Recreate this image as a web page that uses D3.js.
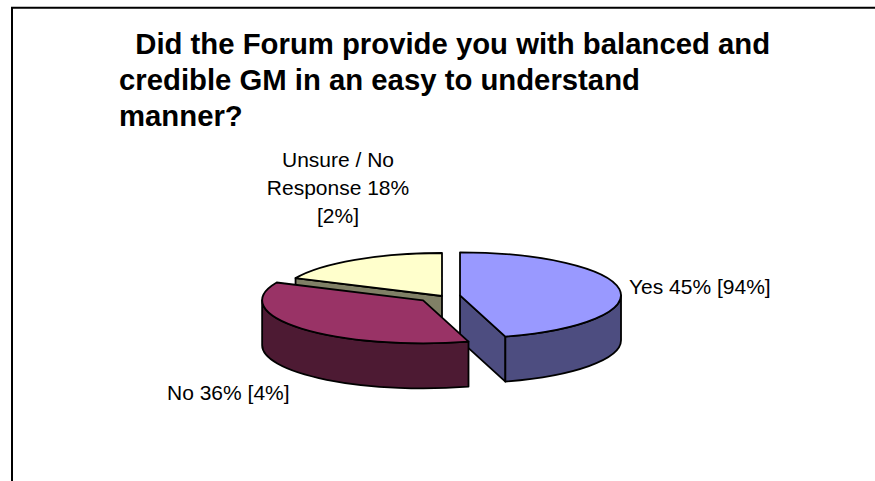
<!DOCTYPE html>
<html>
<head>
<meta charset="utf-8">
<script src="https://cdn.jsdelivr.net/npm/d3@7"></script>
<style>
  html, body { margin: 0; padding: 0; background: #fff; }
  svg { display: block; }
  text { font-family: "Liberation Sans", Arial, sans-serif; }
</style>
</head>
<body>
<svg id="chart" width="875" height="481"></svg>
<script>
// ---- data ----
const titleLines = ["  Did the Forum provide you with balanced and", "credible GM in an easy to understand", "manner?"];
const categories = ["Yes", "No", "Unsure / No Response"];
const values = [45, 36, 18];
const bracketValues = [94, 4, 2];
const colors = ["#9999FF", "#993366", "#FFFFCC"];
const explode = [0.113, 0.155, 0];
const labelLines = [
  ["Yes 45% [94%]"],
  ["No 36% [4%]"],
  ["Unsure / No", "Response 18%", "[2%]"]
];

// ---- layout ----
const W = 875, H = 481;
const cx = 442, cy = 296, rx = 161, ry = 43, depth = 45;
const svg = d3.select("#chart");

// frame (top and left lines)
svg.append("path")
  .attr("d", `M12,${H} L12,7.7 L${W},7.7`)
  .attr("fill", "none").attr("stroke", "#000").attr("stroke-width", 2);

// title
const title = svg.append("text")
  .attr("font-size", 29.3).attr("font-weight", "bold").attr("fill", "#000")
  .style("white-space", "pre");
titleLines.forEach((t, i) => {
  title.append("tspan").attr("x", 119).attr("y", 54 + i * 36).text(t);
});

// pie
const pie = d3.pie().sort(null).value(d => d);
const arcs = pie(values);

function pt(a, c, dz) {
  return [c[0] + rx * Math.sin(a), c[1] - ry * Math.cos(a) + (dz || 0)];
}
const darker = col => { const c = d3.rgb(col); return d3.rgb(c.r / 2, c.g / 2, c.b / 2).formatHex(); };

const slices = arcs.map((a, i) => {
  const mid = (a.startAngle + a.endAngle) / 2;
  const c = [cx + explode[i] * rx * Math.sin(mid), cy - explode[i] * ry * Math.cos(mid)];
  return { a, i, mid, c };
});
// draw back to front
const order = slices.slice().sort((p, q) => (-Math.cos(p.mid)) - (-Math.cos(q.mid)));

const g = svg.append("g").attr("stroke", "#000").attr("stroke-width", 1.8).attr("stroke-linejoin", "round");

order.forEach(s => {
  const { a, i, c } = s;
  const a0 = a.startAngle, a1 = a.endAngle;
  const top = colors[i], side = darker(colors[i]);
  // radial walls
  const wall = ang => {
    const p = pt(ang, c), pd = pt(ang, c, depth);
    return `M${c[0]},${c[1]} L${p[0]},${p[1]} L${pd[0]},${pd[1]} L${c[0]},${c[1] + depth} Z`;
  };
  if (Math.sin(a0) < -1e-6) g.append("path").attr("d", wall(a0)).attr("fill", side);
  if (Math.sin(a1) > 1e-6) g.append("path").attr("d", wall(a1)).attr("fill", side);
  // outer wall (front part only)
  const s0 = Math.max(a0, Math.PI / 2), s1 = Math.min(a1, 3 * Math.PI / 2);
  if (s1 > s0) {
    const p0 = pt(s0, c), p1 = pt(s1, c), p1d = pt(s1, c, depth), p0d = pt(s0, c, depth);
    g.append("path")
      .attr("d", `M${p0[0]},${p0[1]} A${rx},${ry} 0 0 1 ${p1[0]},${p1[1]} L${p1d[0]},${p1d[1]} A${rx},${ry} 0 0 0 ${p0d[0]},${p0d[1]} Z`)
      .attr("fill", side);
  }
  // top face
  const q0 = pt(a0, c), q1 = pt(a1, c);
  const large = (a1 - a0) > Math.PI ? 1 : 0;
  g.append("path")
    .attr("d", `M${c[0]},${c[1]} L${q0[0]},${q0[1]} A${rx},${ry} 0 ${large} 1 ${q1[0]},${q1[1]} Z`)
    .attr("fill", top);
});

// labels
const labelPos = [
  { x: 629, y: 294, anchor: "start" },
  { x: 167, y: 400, anchor: "start" },
  { x: 338, y: 167, anchor: "middle" }
];
labelLines.forEach((lines, i) => {
  const t = svg.append("text")
    .attr("font-size", 21).attr("fill", "#000")
    .attr("text-anchor", labelPos[i].anchor);
  lines.forEach((l, j) => {
    t.append("tspan").attr("x", labelPos[i].x).attr("y", labelPos[i].y + j * 28).text(l);
  });
});
</script>
</body>
</html>
